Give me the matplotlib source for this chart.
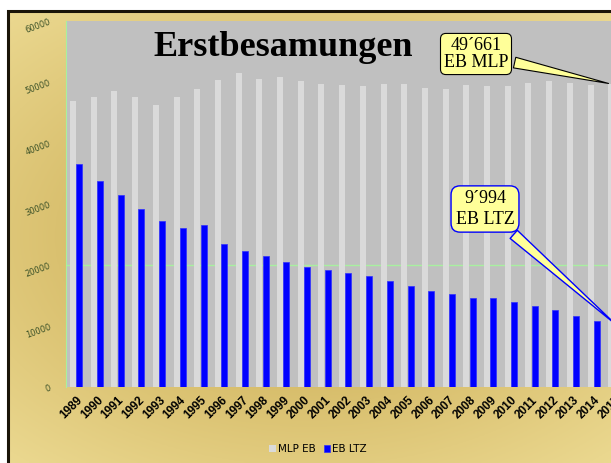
import numpy as np
import matplotlib
matplotlib.use("Agg")
import matplotlib.pyplot as plt
from matplotlib.patches import Rectangle

years = [str(y) for y in range(1989, 2016)]
mlp_eb = [46900, 47600, 48600, 47500, 46300, 47500, 48900, 50400, 51400, 50500,
          50800, 50200, 49700, 49500, 49300, 49600, 49700, 49000, 48800, 49500,
          49300, 49300, 49900, 50100, 49900, 49500, 49661]
eb_ltz = [36600, 33700, 31400, 29100, 27200, 26100, 26600, 23500, 22300, 21400,
          20500, 19600, 19100, 18700, 18200, 17400, 16600, 15700, 15300, 14600,
          14600, 14000, 13300, 12700, 11600, 10800, 9994]
y_ticks = [0, 10000, 20000, 30000, 40000, 50000, 60000]

W, H = 611, 463
fig = plt.figure(figsize=(W / 100, H / 100), dpi=100)
fig.patch.set_facecolor("white")

# gold background with gradient
bg = fig.add_axes([8 / W, 0, 1 - 8 / W, 1 - 11 / H])
yy, xx = np.mgrid[0:1:200j, 0:1:200j]
r = np.sqrt(((xx - 0.5) / 0.8) ** 2 + ((yy - 0.5) / 0.7) ** 2)
r = np.clip(r, 0, 1)
light = np.array([0.93, 0.86, 0.58])
dark = np.array([0.77, 0.64, 0.28])
img = dark[None, None, :] * (1 - r[..., None]) + light[None, None, :] * r[..., None]
bg.imshow(img, extent=[0, 1, 0, 1], aspect="auto")
bg.set_xlim(0, 1)
bg.set_ylim(0, 1)
bg.axis("off")
fig.add_artist(Rectangle((8 / W, -0.01), 1.0, 1 - 11 / H + 0.01, transform=fig.transFigure,
                         fill=False, edgecolor="#1a1408", linewidth=2.2, zorder=5))

ax = fig.add_axes([66 / W, 76 / H, 27 * 20.7 / W, 366 / H])
ax.set_facecolor("#c0c0c0")
x = np.arange(len(years))
bw = 0.29
ax.bar(x - 0.16, mlp_eb, width=bw, color="#dadada", edgecolor="none", zorder=2, label="MLP EB")
ax.bar(x + 0.145, eb_ltz, width=bw, color="#0000ff", edgecolor="#3030ff", linewidth=0.5,
       zorder=2, label="EB LTZ")
ax.axhline(20000, color="#a8f0a0", linewidth=1.0, zorder=1)
ax.set_xlim(-0.5, len(years) - 0.5)
ax.set_ylim(0, 60000)
for s in ["top", "right", "bottom"]:
    ax.spines[s].set_visible(False)
ax.spines["left"].set_color("#a8f0a0")
ax.set_yticks(y_ticks)
ax.set_yticklabels([str(v) for v in y_ticks], rotation=20, fontsize=6, color="#3c5228")
ax.tick_params(axis="y", length=0, pad=10)
ax.set_xticks(x)
ax.set_xticklabels(years, rotation=45, ha="right", rotation_mode="anchor",
                   fontsize=8.5, fontweight="bold", family="Liberation Sans")
ax.tick_params(axis="x", length=0, pad=5)

fig.text(283 / W, 1 - 48 / H, "Erstbesamungen", ha="center", va="center",
         fontsize=26, fontweight="bold", family="Liberation Serif", zorder=6)

ax.annotate("49´661\nEB MLP", xy=(26 - 0.16, mlp_eb[-1]), xytext=(476 / W, 1 - 54 / H),
            textcoords="figure fraction", ha="center", va="center", fontsize=13,
            family="Liberation Serif", linespacing=1.05,
            bbox=dict(boxstyle="round,pad=0.18,rounding_size=0.3", fc="#ffff99", ec="black", lw=0.8),
            arrowprops=dict(arrowstyle="wedge,tail_width=0.6", fc="#ffff99", ec="black", lw=0.8),
            zorder=6)
ax.annotate("9´994\nEB LTZ", xy=(26 + 0.145, eb_ltz[-1]), xytext=(485 / W, 1 - 209 / H),
            textcoords="figure fraction", ha="center", va="center", fontsize=13,
            family="Liberation Serif", linespacing=1.25,
            bbox=dict(boxstyle="round,pad=0.25,rounding_size=0.5", fc="#ffff99", ec="#0000ff", lw=1.0),
            arrowprops=dict(arrowstyle="wedge,tail_width=0.6", fc="#ffff99", ec="#0000ff", lw=1.0),
            zorder=6)

fig.legend(loc="center", bbox_to_anchor=(318 / W, 1 - 449 / H), ncol=2, frameon=False,
           fontsize=7.5, handlelength=0.6, handleheight=0.6, handletextpad=0.2, columnspacing=0.8)

fig.savefig("out.png", dpi=100)
